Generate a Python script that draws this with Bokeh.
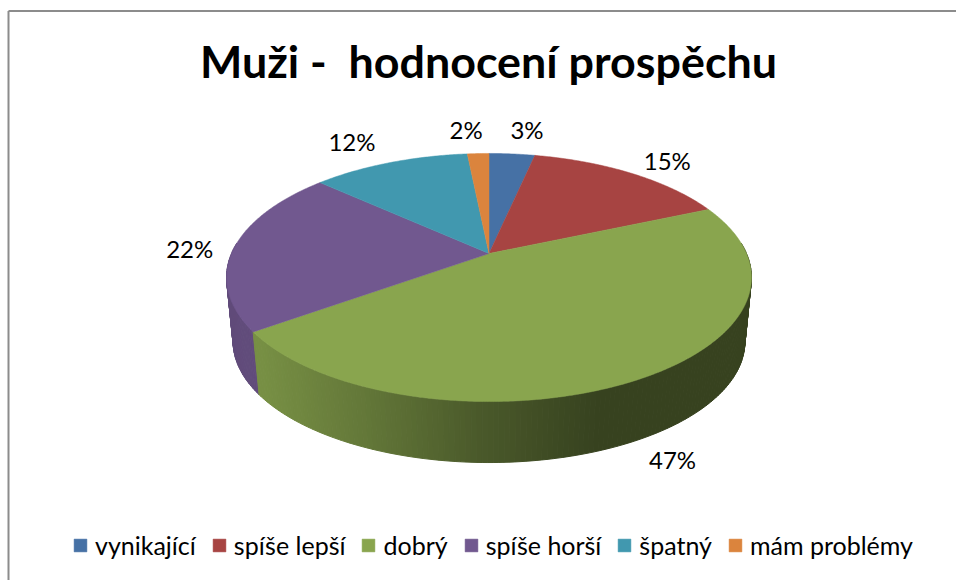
import numpy as np
from bokeh.core.properties import value
from bokeh.embed import file_html
from bokeh.models import ColumnDataSource, Legend, LegendItem, Range1d
from bokeh.plotting import figure
from bokeh.resources import INLINE

TITLE = "Muži - \u00a0hodnocení prospěchu"
CATEGORIES = ["vynikající", "spíše lepší", "dobrý", "spíše horší", "špatný", "mám problémy"]
VALUES = [3.4, 15.1, 46.6, 21.6, 11.7, 1.6]
COLORS = ["#4671A5", "#A74442", "#89A54E", "#71588F", "#4198AF", "#DB843D"]

# label offset from the slice's rim point (layout, px)
LABEL_NUDGE = [(15, -24), (36, -13), (31, 81), (-45, 2), (-38, -21), (-12, -24)]

# perspective model of the pie
CX, CY, BX, AY, K = 488.5, 253.0, 257.5, 119.4, 0.1935
S, CY_B = 0.975, 317.7
SHADE_X = [225, 260, 360, 480, 570, 600, 760]
SHADE_F = [0.85, 0.87, 0.73, 0.54, 0.43, 0.40, 0.40]
FONT = "Lato"


def rim(theta, s=1.0, cy=CY):
    u, v = np.sin(theta), -np.cos(theta)
    d = 1 - K * v
    return CX + s * BX * u / d, cy + s * AY * v / d


def shade(color, f):
    r, g, b = (int(color[i:i + 2], 16) for i in (1, 3, 5))
    return "#%02x%02x%02x" % (round(r * f), round(g * f), round(b * f))


p = figure(width=956, height=580, output_backend="svg", toolbar_location=None,
           x_range=Range1d(0, 956), y_range=Range1d(580, 0),
           min_border=0, outline_line_color=None, background_fill_color="white")
p.axis.visible = False
p.grid.visible = False

# chart frame
p.line([8, 8], [580, 10.5], line_color="#8c8c8c", line_width=2)
p.line([8, 956], [10.5, 10.5], line_color="#8c8c8c", line_width=2)

shares = np.array(VALUES) / sum(VALUES)
edges = np.concatenate([[0], np.cumsum(shares)]) * 2 * np.pi

# side wall
quads = []
for i, col in enumerate(COLORS):
    a0, a1 = edges[i], edges[i + 1]
    lo, hi = max(a0, np.radians(85)), min(a1, np.radians(275))
    if hi <= lo:
        continue
    ts = np.linspace(lo, hi, max(2, int(np.degrees(hi - lo)) + 1))
    for t0, t1 in zip(ts[:-1], ts[1:]):
        x0, y0 = rim(t0)
        x1, y1 = rim(t1)
        x2, y2 = rim(t1, S, CY_B)
        x3, y3 = rim(t0, S, CY_B)
        f = float(np.interp((x0 + x1) / 2, SHADE_X, SHADE_F))
        quads.append((-np.cos((t0 + t1) / 2), [x0, x1, x2, x3], [y0, y1, y2, y3], shade(col, f)))
quads.sort(key=lambda q: q[0])
p.patches([q[1] for q in quads], [q[2] for q in quads],
          fill_color=[q[3] for q in quads], line_color=[q[3] for q in quads], line_width=1)

# top face
items = []
for i, (cat, col) in enumerate(zip(CATEGORIES, COLORS)):
    ts = np.linspace(edges[i], edges[i + 1], max(3, int(np.degrees(edges[i + 1] - edges[i])) * 2))
    xs, ys = rim(ts)
    r = p.patch(np.r_[CX, xs], np.r_[CY, ys], fill_color=col, line_color=col, line_width=0.5)
    items.append(LegendItem(label=cat, renderers=[r]))

# data labels
mids = (edges[:-1] + edges[1:]) / 2
mx, my = rim(mids)
lab = ColumnDataSource(dict(
    x=mx + np.array([n[0] for n in LABEL_NUDGE]),
    y=my + np.array([n[1] for n in LABEL_NUDGE]),
    t=[f"{v:.0f}%" for v in VALUES]))
p.text("x", "y", "t", source=lab, text_font=value(FONT), text_font_size="24px",
       text_color="#000000", text_align="center", text_baseline="middle")

# title
p.text([488], [60], [TITLE], text_font=value(FONT), text_font_style="bold", text_font_size="44.8px",
       text_color="#000000", text_align="center", text_baseline="middle")

legend = Legend(items=items, orientation="horizontal", location=(72, 20),
                glyph_width=16, glyph_height=16, label_standoff=7, spacing=15, padding=4, margin=0,
                background_fill_alpha=0, border_line_color=None,
                label_text_font=FONT, label_text_font_size="25px", label_text_color="#000000")
p.add_layout(legend, "center")

open("out.html", "w").write(file_html(p, INLINE))
